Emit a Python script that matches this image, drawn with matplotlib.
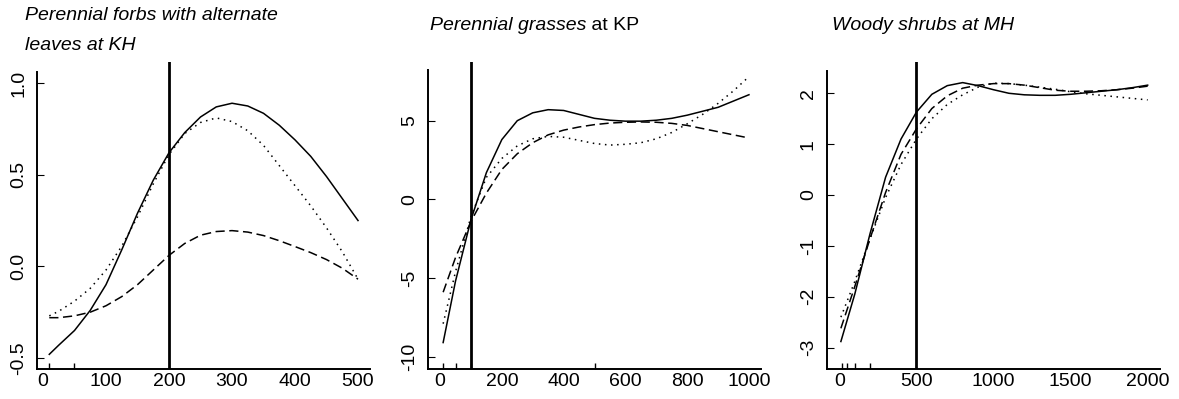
import matplotlib
matplotlib.use('agg')
import matplotlib.pyplot as plt
from matplotlib.text import Annotation
from matplotlib.ticker import FixedLocator

plt.rcParams['font.family'] = ['Liberation Sans', 'DejaVu Sans']
plt.rcParams['axes.unicode_minus'] = False

# panel 1: perennial forbs with alternate leaves at KH
x1 = [10, 25, 50, 75, 100, 125, 150, 175, 200, 225, 250, 275, 300, 325, 350, 375, 400, 425, 450, 475, 500]
solid1 = [-0.48, -0.43, -0.35, -0.24, -0.10, 0.09, 0.29, 0.47, 0.62, 0.73, 0.815, 0.87, 0.89, 0.875, 0.835,
          0.77, 0.69, 0.60, 0.49, 0.37, 0.25]
dotted1 = [-0.27, -0.245, -0.19, -0.12, -0.02, 0.11, 0.27, 0.45, 0.61, 0.725, 0.785, 0.81, 0.79, 0.74, 0.66,
           0.55, 0.44, 0.33, 0.21, 0.08, -0.07]
dashed1 = [-0.28, -0.28, -0.27, -0.25, -0.215, -0.165, -0.10, -0.02, 0.06, 0.125, 0.17, 0.19, 0.195, 0.187,
           0.168, 0.14, 0.108, 0.075, 0.037, -0.01, -0.07]
rug1 = [10, 50, 100, 200, 300, 400, 500]
vline1 = 200

# panel 2: perennial grasses at KP
x2 = [10, 50, 100, 150, 200, 250, 300, 350, 400, 450, 500, 550, 600, 650, 700, 750, 800, 850, 900, 950, 1000]
solid2 = [-9.1, -5.2, -1.3, 1.7, 3.8, 5.0, 5.5, 5.7, 5.65, 5.4, 5.15, 5.03, 4.97, 4.97, 5.03, 5.15, 5.35,
          5.6, 5.85, 6.25, 6.65]
dotted2 = [-7.9, -4.6, -1.1, 1.4, 2.6, 3.4, 3.85, 4.0, 3.95, 3.75, 3.55, 3.45, 3.5, 3.6, 3.85, 4.25, 4.8,
           5.4, 6.1, 6.9, 7.8]
dashed2 = [-5.9, -3.7, -1.4, 0.4, 1.9, 2.9, 3.6, 4.1, 4.4, 4.6, 4.75, 4.85, 4.9, 4.92, 4.9, 4.83, 4.7,
           4.5, 4.3, 4.1, 3.9]
rug2 = [0, 10, 50, 100, 200, 400, 500, 600, 800, 1000]
vline2 = 100

# panel 3: woody shrubs at MH
x3 = [10, 100, 200, 300, 400, 500, 600, 700, 800, 900, 1000, 1100, 1200, 1300, 1400, 1500, 1600, 1700,
      1800, 1900, 2000]
solid3 = [-2.88, -1.95, -0.75, 0.35, 1.1, 1.63, 1.98, 2.15, 2.21, 2.15, 2.07, 2.0, 1.97, 1.96, 1.96, 1.98,
          2.01, 2.04, 2.07, 2.11, 2.16]
dashed3 = [-2.62, -1.8, -0.85, 0.05, 0.8, 1.3, 1.7, 1.95, 2.1, 2.16, 2.19, 2.19, 2.16, 2.11, 2.06, 2.04,
           2.04, 2.05, 2.07, 2.1, 2.14]
dotted3 = [-2.4, -1.7, -0.85, -0.05, 0.6, 1.1, 1.5, 1.78, 1.97, 2.12, 2.2, 2.19, 2.16, 2.12, 2.08, 2.03,
           1.99, 1.96, 1.93, 1.9, 1.87]
rug3 = [0, 20, 50, 100, 200, 500, 1000, 1500, 2000]
vline3 = 500

W, H = 1179, 399
fig = plt.figure(figsize=(W / 100, H / 100), dpi=100)


def panel(left, right, xlim, ylim, spine_top, xticks, yticks, ylabels, rug, x, solid, dotted, dashed, vline):
    ax = fig.add_axes([left / W, (H - 369) / H, (right - left) / W, 307 / H])
    ax.plot(x, solid, color='black', lw=1.1)
    ax.plot(x, dotted, color='black', lw=1.1, ls=(0, (1, 3)))
    ax.plot(x, dashed, color='black', lw=1.1, ls=(0, (6, 3)))
    ax.axvline(vline, color='black', lw=2.0)
    ax.set_xlim(*xlim)
    ax.set_ylim(*ylim)
    for s in ['top', 'right']:
        ax.spines[s].set_visible(False)
    ax.spines['left'].set_linewidth(1.4)
    ax.spines['bottom'].set_linewidth(1.4)
    ax.spines['left'].set_bounds(ylim[0], spine_top)
    ax.set_xticks(xticks)
    ax.set_xticklabels([str(t) for t in xticks])
    ax.xaxis.set_minor_locator(FixedLocator(rug))
    ax.tick_params(axis='x', which='major', length=0, pad=3, labelsize=14)
    ax.tick_params(axis='x', which='minor', direction='in', length=4.5, width=1.0)
    ax.set_yticks(yticks)
    ax.set_yticklabels(ylabels, rotation=90, va='center')
    ax.tick_params(axis='y', direction='in', length=5, width=0.8, pad=7, labelsize=14)
    return ax


panel(37, 370, (-9.5, 519), (-0.56, 1.115), 1.06, [0, 100, 200, 300, 400, 500],
      [-0.5, 0.0, 0.5, 1.0], ['-0.5', '0.0', '0.5', '1.0'], rug1, x1, solid1, dotted1, dashed1, vline1)
panel(427.7, 760.7, (-40, 1038), (-10.78, 8.73), 8.2, [0, 200, 400, 600, 800, 1000],
      [-10, -5, 0, 5], ['-10', '-5', '0', '5'], rug2, x2, solid2, dotted2, dashed2, vline2)
panel(826.7, 1160, (-82, 2080), (-3.42, 2.615), 2.44, [0, 500, 1000, 1500, 2000],
      [-3, -2, -1, 0, 1, 2], ['-3', '-2', '-1', '0', '1', '2'], rug3, x3, solid3, dotted3, dashed3, vline3)

tsize = 14
fig.text(25 / W, 1 - 20 / H, 'Perennial forbs with alternate', style='italic', fontsize=tsize, va='baseline')
fig.text(25 / W, 1 - 50 / H, 'leaves at KH', style='italic', fontsize=tsize, va='baseline')
t2 = fig.text(430 / W, 1 - 34 / H, 'Perennial grasses', style='italic', fontsize=tsize, va='bottom')
fig.add_artist(Annotation(' at KP', xy=(1, 0), xycoords=t2, va='bottom', ha='left', fontsize=tsize))
fig.text(832 / W, 1 - 34 / H, 'Woody shrubs at MH', style='italic', fontsize=tsize, va='bottom')

plt.savefig('out.png', dpi=100)
